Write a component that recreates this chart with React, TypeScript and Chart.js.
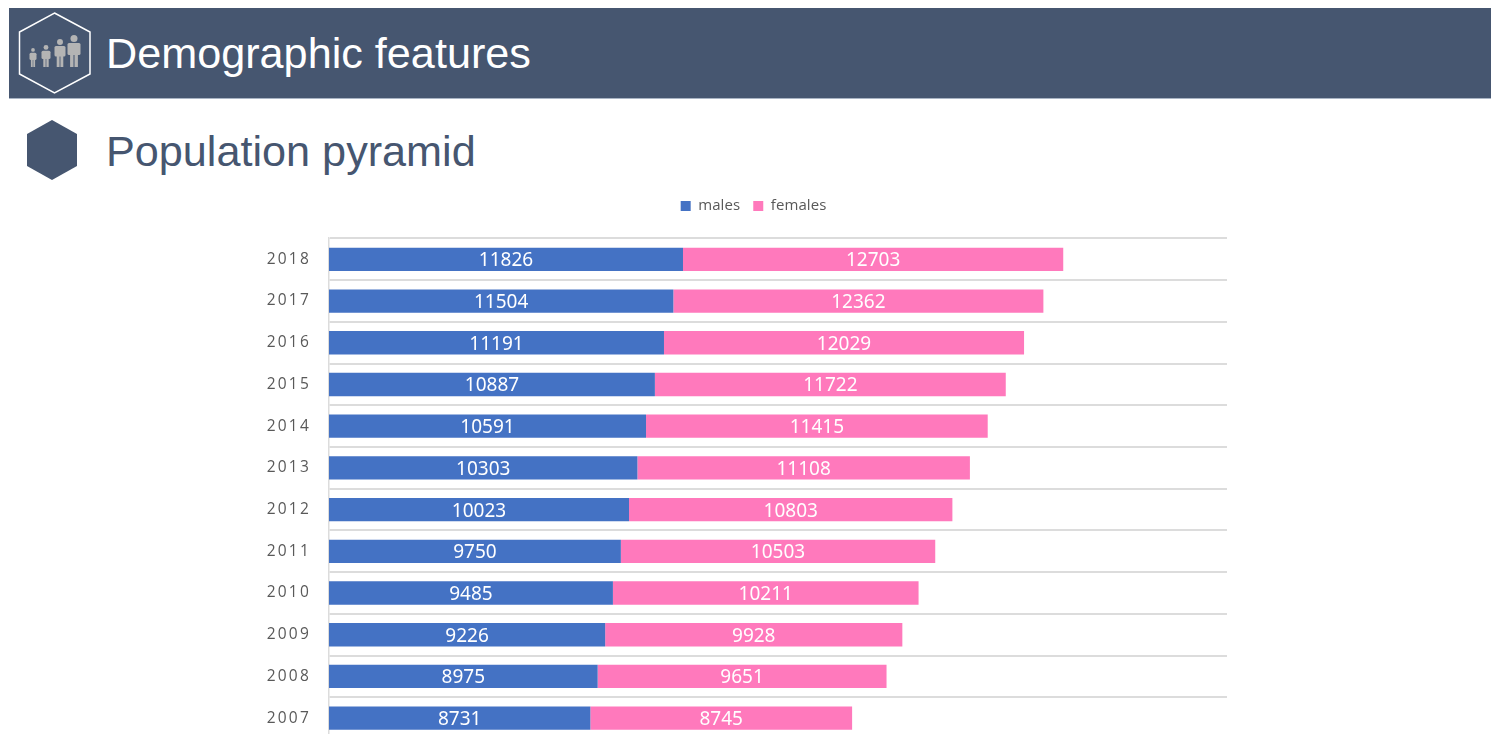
import React, { useEffect, useRef } from "react";
import { Chart, registerables } from "chart.js";

Chart.register(...registerables);

const years = ["2018", "2017", "2016", "2015", "2014", "2013", "2012", "2011", "2010", "2009", "2008", "2007"];
const males = [11826, 11504, 11191, 10887, 10591, 10303, 10023, 9750, 9485, 9226, 8975, 8731];
const females = [12703, 12362, 12029, 11722, 11415, 11108, 10803, 10503, 10211, 9928, 9651, 8745];

const NAVY = "#465670";
const SANS = '"Liberation Sans", Arial, sans-serif';
const TICK_SPACING = "2.2px";

const legendTweaks = {
  id: "legendTweaks",
  beforeLayout(chart: any) {
    const l = chart.legend;
    if (l && !l.__wrapped) {
      const f = l.fit;
      l.fit = function () {
        f.call(this);
        this.height = 55.5;
      };
      const d = l.draw;
      l.draw = function () {
        const ctx = chart.ctx;
        ctx.save();
        ctx.translate(-2, 2.5);
        ctx.letterSpacing = "0.1px";
        d.call(this);
        ctx.restore();
      };
      l.__wrapped = true;
    }
  },
};

const spacing = {
  id: "spacing",
  beforeDraw(chart: any) {
    chart.ctx.letterSpacing = TICK_SPACING;
  },
};

const valueLabels = {
  id: "valueLabels",
  afterDatasetsDraw(chart: any) {
    const ctx = chart.ctx;
    ctx.save();
    ctx.letterSpacing = "0px";
    ctx.fillStyle = "#ffffff";
    ctx.font = '19px "Noto Sans"';
    ctx.textAlign = "center";
    ctx.textBaseline = "middle";
    chart.data.datasets.forEach((ds: any, i: number) => {
      chart.getDatasetMeta(i).data.forEach((el: any, j: number) => {
        const c = el.getCenterPoint();
        ctx.fillText(String(ds.data[j]), c.x, c.y + 1.5);
      });
    });
    ctx.restore();
  },
};

function PersonIcon({ x, h, w }: { x: number; h: number; w: number }) {
  const foot = 67;
  const r = w * 0.27;
  const top = foot - h;
  const bodyTop = top + r * 2 + 1;
  const legTop = bodyTop + (foot - bodyTop) * 0.45;
  return (
    <g fill="#b4b4b4">
      <circle cx={x} cy={top + r} r={r} />
      <rect x={x - w / 2} y={bodyTop} width={w} height={(foot - bodyTop) * 0.5} rx={1.5} />
      <rect x={x - w * 0.3} y={legTop} width={w * 0.26} height={foot - legTop} />
      <rect x={x + w * 0.04} y={legTop} width={w * 0.26} height={foot - legTop} />
    </g>
  );
}

export default function App() {
  const ref = useRef<HTMLCanvasElement>(null);

  useEffect(() => {
    const chart = new Chart(ref.current!, {
      type: "bar",
      data: {
        labels: years,
        datasets: [
          { label: "males", data: males, backgroundColor: "#4472C4" },
          { label: "females", data: females, backgroundColor: "#FF79BC" },
        ],
      },
      options: {
        animation: false,
        responsive: false,
        indexAxis: "y",
        datasets: { bar: { categoryPercentage: 1, barPercentage: 0.56 } },
        layout: { padding: { left: 283, right: 272, top: 0, bottom: 0 } },
        plugins: {
          tooltip: { enabled: false },
          legend: {
            position: "top",
            labels: {
              boxWidth: 10,
              boxHeight: 10,
              padding: 13,
              color: "#595959",
              font: { family: '"Open Sans"', size: 15 },
            },
          },
        },
        scales: {
          x: { display: false, stacked: true, min: 0, max: 30000 },
          y: {
            stacked: true,
            afterFit(scale: any) {
              scale.width = 46;
              scale.paddingTop = 0;
              scale.paddingBottom = 0;
              scale._computeLabelArea = () => undefined;
            },
            border: { display: true, color: "#dcdcdc", width: 1.5 },
            grid: { color: "#dcdcdc", lineWidth: 2, tickLength: 0, offset: true },
            ticks: {
              padding: 18,
              color: "#595959",
              autoSkip: false,
              font: { family: '"Open Sans"', size: 15.5 },
            },
          },
        },
      },
      plugins: [legendTweaks, spacing, valueLabels],
    } as any);
    return () => chart.destroy();
  }, []);

  return (
    <div style={{ position: "absolute", left: 0, top: 0, width: 1499, height: 734, overflow: "hidden", background: "#fff" }}>
      <div style={{ position: "absolute", left: 9, top: 8, width: 1482, height: 91, background: NAVY, borderBottom: "1px solid #a9b4c4", boxSizing: "border-box" }} />
      <svg width={110} height={190} style={{ position: "absolute", left: 0, top: 0 }}>
        <polygon points="54.5,13 90,32 90,74 54.5,93 19.5,74 19.5,32" fill="none" stroke="#fff" strokeWidth={1.5} />
        <PersonIcon x={33} h={19} w={7} />
        <PersonIcon x={46} h={22} w={9} />
        <PersonIcon x={60} h={28} w={11} />
        <PersonIcon x={74} h={32} w={13} />
        <polygon points="52,120 77,134 77,166 52,180 27,166 27,134" fill={NAVY} />
      </svg>
      <div style={{ position: "absolute", left: 106, top: 28, font: `43.2px ${SANS}`, lineHeight: "50px", color: "#fff", whiteSpace: "nowrap" }}>
        Demographic features
      </div>
      <div style={{ position: "absolute", left: 106, top: 126, font: `43.2px ${SANS}`, lineHeight: "50px", color: NAVY, whiteSpace: "nowrap" }}>
        Population pyramid
      </div>
      <canvas ref={ref} width={1499} height={556} style={{ position: "absolute", left: 0, top: 183, display: "block" }} />
    </div>
  );
}
